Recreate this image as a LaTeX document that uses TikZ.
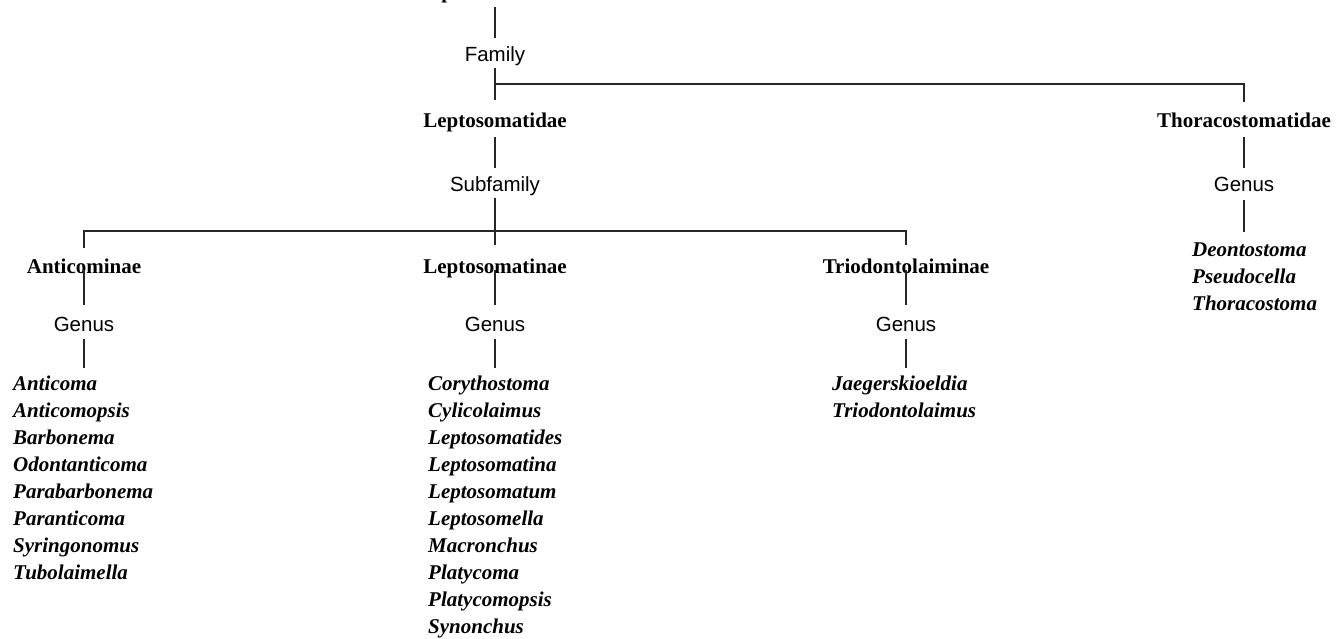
\documentclass[tikz,border=0pt]{standalone}
\usepackage{fontspec}
\setmainfont{Liberation Serif}
\setsansfont{Liberation Sans}
\begin{document}
\begin{tikzpicture}[x=1pt,y=1pt,
  lab/.style={inner sep=0pt, text height=15pt, text depth=4pt, anchor=base},
  taxon/.style={lab, font=\fontsize{21}{27}\selectfont\bfseries},
  rank/.style={lab, font=\fontsize{20.5}{27}\selectfont\sffamily},
  gen/.style={lab, anchor=base west, font=\fontsize{21}{27}\selectfont\bfseries\itshape},
  conn/.style={line width=1.1pt, black!85}]
\useasboundingbox (0,0) rectangle (1336,-638);
% nodes
\node[taxon] (root) at (495,1.5) {Leptosomatoidea};
\node[rank] (fam) at (495,-61) {Family};
\node[taxon] (lepid) at (495,-127) {Leptosomatidae};
\node[taxon] (thor) at (1244,-127) {Thoracostomatidae};
\node[rank] (subf) at (495,-191) {Subfamily};
\node[rank] (thg) at (1244,-191) {Genus};
\node[taxon] (anti) at (84,-273) {Anticominae};
\node[taxon] (lepin) at (495,-273) {Leptosomatinae};
\node[taxon] (trio) at (906,-273) {Triodontolaiminae};
\node[rank] (ag) at (84,-331) {Genus};
\node[rank] (lg) at (495,-331) {Genus};
\node[rank] (tg) at (906,-331) {Genus};
\foreach \n [count=\i] in {Anticoma,Anticomopsis,Barbonema,Odontanticoma,Parabarbonema,Paranticoma,Syringonomus,Tubolaimella}
  \node[gen] (a\i) at (13,{-390-27*(\i-1)}) {\n};
\foreach \n [count=\i] in {Corythostoma,Cylicolaimus,Leptosomatides,Leptosomatina,Leptosomatum,Leptosomella,Macronchus,Platycoma,Platycomopsis,Synonchus}
  \node[gen] (l\i) at (428,{-390-27*(\i-1)}) {\n};
\foreach \n [count=\i] in {Jaegerskioeldia,Triodontolaimus}
  \node[gen] (r\i) at (832,{-390-27*(\i-1)}) {\n};
\foreach \n [count=\i] in {Deontostoma,Pseudocella,Thoracostoma}
  \node[gen] (t\i) at (1192,{-256-27*(\i-1)}) {\n};
% connectors
\coordinate (j1) at (495,-84);
\coordinate (j2) at (495,-231);
\draw[conn] ([yshift=-4.5pt]root.south) -- ([yshift=8pt]fam.north);
\draw[conn] ([yshift=-3pt]fam.south) -- ([yshift=12pt]lepid.north);
\draw[conn] (j1) -| ([yshift=10pt]thor.north);
\draw[conn] ([yshift=-6pt]lepid.south) -- ([yshift=8pt]subf.north);
\draw[conn] ([yshift=-6pt]thor.south) -- ([yshift=8pt]thg.north);
\draw[conn] ([yshift=-3pt]subf.south) -- ([yshift=13pt]lepin.north);
\draw[conn] ([yshift=10pt]anti.north) |- (j2) -| ([yshift=13pt]trio.north);
\draw[conn] ([yshift=3pt]anti.base) -- ([yshift=11pt]ag.north);
\draw[conn] ([yshift=3pt]lepin.base) -- ([yshift=11pt]lg.north);
\draw[conn] ([yshift=3pt]trio.base) -- ([yshift=11pt]tg.north);
\draw[conn, shorten >=7pt] ([yshift=-4pt]ag.south) -- (ag.south |- a1.north);
\draw[conn, shorten >=7pt] ([yshift=-4pt]lg.south) -- (lg.south |- l1.north);
\draw[conn, shorten >=7pt] ([yshift=-4pt]tg.south) -- (tg.south |- r1.north);
\draw[conn, shorten >=9pt] ([yshift=-5pt]thg.south) -- (thg.south |- t1.north);
\end{tikzpicture}
\end{document}
